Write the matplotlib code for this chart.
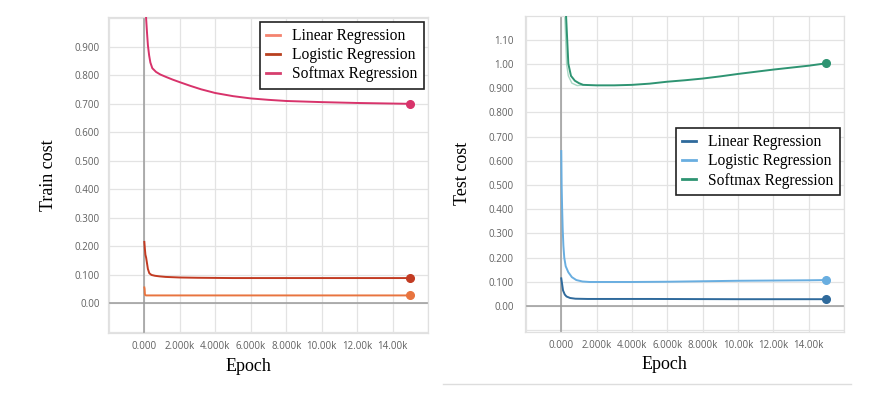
"""Train / test cost curves for three regression models."""

import matplotlib
matplotlib.use("Agg")
import matplotlib.pyplot as plt
from matplotlib.lines import Line2D

# ---- data ----
series_names = ["Linear Regression", "Logistic Regression", "Softmax Regression"]

train_linear_x = [0, 15, 30, 50, 100, 300, 1000, 5000, 10000, 15000]
train_linear_y = [0.055, 0.05, 0.032, 0.028, 0.027, 0.027, 0.027, 0.027, 0.027, 0.027]
train_logistic_x = [0, 30, 60, 100, 150, 200, 280, 400, 600, 850, 1200, 2000, 3000, 5000, 8000, 11000, 15000]
train_logistic_y = [0.215, 0.19, 0.17, 0.16, 0.14, 0.12, 0.105, 0.099, 0.096, 0.094, 0.092, 0.090, 0.089,
                    0.088, 0.088, 0.088, 0.088]
train_softmax_x = [0, 60, 100, 150, 200, 270, 340, 450, 660, 900, 1200, 1600, 2000, 2600, 3200, 4000, 5000,
                   6000, 7000, 8000, 10000, 12000, 15000]
train_softmax_y = [1.6, 1.1, 1.0, 0.95, 0.906, 0.87, 0.845, 0.825, 0.812, 0.803, 0.795, 0.785, 0.776, 0.763,
                   0.751, 0.738, 0.727, 0.719, 0.714, 0.710, 0.706, 0.703, 0.700]

test_linear_x = [0, 50, 100, 200, 300, 500, 800, 1500, 5000, 10000, 15000]
test_linear_y = [0.115, 0.09, 0.065, 0.048, 0.04, 0.034, 0.031, 0.030, 0.030, 0.029, 0.029]
test_logistic_x = [0, 20, 50, 80, 120, 170, 250, 400, 600, 850, 1200, 1600, 2500, 4000, 6000, 8000, 10000,
                   12000, 14000, 15000]
test_logistic_y = [0.64, 0.5, 0.4, 0.32, 0.25, 0.2, 0.165, 0.14, 0.12, 0.108, 0.102, 0.100, 0.100, 0.100,
                   0.101, 0.103, 0.105, 0.106, 0.107, 0.108]
test_softmax_x = [0, 150, 270, 400, 550, 770, 1000, 1240, 2000, 3000, 4000, 5000, 6000, 7000, 8000, 9000,
                  10000, 11000, 12000, 13000, 14000, 15000]
test_softmax_y = [1.6, 1.35, 1.2, 1.0, 0.95, 0.93, 0.92, 0.913, 0.911, 0.911, 0.913, 0.918, 0.926, 0.932,
                  0.939, 0.948, 0.958, 0.967, 0.976, 0.984, 0.992, 1.002]
# raw (unsmoothed) softmax test trace, drawn faint
test_softmax_raw_x = [0, 200, 300, 400, 600, 900, 1200]
test_softmax_raw_y = [1.6, 1.2, 1.0, 0.95, 0.92, 0.91, 0.912]

x_ticks = [0, 2000, 4000, 6000, 8000, 10000, 12000, 14000]
x_tick_labels = ["0.000", "2.000k", "4.000k", "6.000k", "8.000k", "10.00k", "12.00k", "14.00k"]
train_y_ticks = [0.0, 0.1, 0.2, 0.3, 0.4, 0.5, 0.6, 0.7, 0.8, 0.9]
train_y_labels = ["0.00", "0.100", "0.200", "0.300", "0.400", "0.500", "0.600", "0.700", "0.800", "0.900"]
test_y_ticks = [0.0, 0.1, 0.2, 0.3, 0.4, 0.5, 0.6, 0.7, 0.8, 0.9, 1.0, 1.1]
test_y_labels = ["0.00", "0.100", "0.200", "0.300", "0.400", "0.500", "0.600", "0.700", "0.800", "0.900",
                 "1.00", "1.10"]

train_colors = ["#e8743f", "#c23b22", "#d8336b"]
train_legend_colors = ["#f4836f", "#b8401f", "#d63f6e"]
test_colors = ["#2f6a9c", "#69aee0", "#2e9472"]

SERIF = "Liberation Serif"
TICK_FONT = "Open Sans"


def style_axes(ax, ylim, yticks, ylabels, grid_y):
    ax.set_xlim(-2050, 16000)
    ax.set_ylim(*ylim)
    # сетка
    for gx in range(-2000, 16001, 2000):
        ax.axvline(gx, color="#e3e3e3", lw=0.9, zorder=0)
    for gy in grid_y:
        ax.axhline(gy, color="#e3e3e3", lw=0.9, zorder=0)
    # нулевые линии
    ax.axvline(0, color="#9a9a9a", lw=1.1, zorder=1)
    ax.axhline(0, color="#9a9a9a", lw=1.1, zorder=1)
    for s in ax.spines.values():
        s.set_color("#e0e0e0")
        s.set_linewidth(0.9)
    ax.set_xticks(x_ticks)
    ax.set_xticklabels(x_tick_labels)
    ax.set_yticks(yticks)
    ax.set_yticklabels(ylabels)
    ax.tick_params(length=0, labelsize=7, labelcolor="#606060", pad=6)
    for lbl in ax.get_xticklabels() + ax.get_yticklabels():
        lbl.set_family(TICK_FONT)


def add_legend(ax, colors, anchor):
    handles = [Line2D([], [], color=c, lw=2) for c in colors]
    leg = ax.legend(handles, series_names, loc="upper right", bbox_to_anchor=anchor,
                    borderaxespad=0, prop={"family": SERIF, "size": 11.2}, handlelength=0.9,
                    labelspacing=0.2, borderpad=0.4, handletextpad=0.8, fancybox=False,
                    framealpha=1, edgecolor="#222222")
    leg.get_frame().set_linewidth(1.2)


fig = plt.figure(figsize=(8.86, 3.99), dpi=100)

# ---- left: train cost ----
ax1 = fig.add_axes([0.1219, 0.1654, 0.3612, 0.792])
style_axes(ax1, (-0.105, 1.005), train_y_ticks, train_y_labels,
           [-0.1, 0.0, 0.1, 0.2, 0.3, 0.4, 0.5, 0.6, 0.7, 0.8, 0.9, 1.0])
train_data = [(train_linear_x, train_linear_y), (train_logistic_x, train_logistic_y),
              (train_softmax_x, train_softmax_y)]
for (xs, ys), c in zip(train_data, train_colors):
    ax1.plot(xs, ys, color=c, lw=1.4, zorder=3)
    ax1.plot(xs[-1], ys[-1], "o", color=c, ms=5.5, zorder=4)
ax1.set_ylabel("Train cost", family=SERIF, fontsize=13)
ax1.yaxis.set_label_coords(-0.16, 0.5)
ax1.set_xlabel("Epoch", family=SERIF, fontsize=13)
ax1.xaxis.set_label_coords(0.44, -0.078)
add_legend(ax1, train_legend_colors, (0.9875, 0.984))

# ---- right: test cost ----
ax2 = fig.add_axes([0.5926, 0.1687, 0.360, 0.7912])
style_axes(ax2, (-0.105, 1.197), test_y_ticks, test_y_labels,
           [-0.1, 0.0, 0.1, 0.2, 0.3, 0.4, 0.5, 0.6, 0.7, 0.8, 0.9, 1.0, 1.1])
ax2.tick_params(axis="y", pad=8)
ax2.plot(test_softmax_raw_x, test_softmax_raw_y, color="#a8d8c4", lw=1.0, zorder=2)
test_data = [(test_linear_x, test_linear_y), (test_logistic_x, test_logistic_y),
             (test_softmax_x, test_softmax_y)]
for (xs, ys), c in zip(test_data, test_colors):
    ax2.plot(xs, ys, color=c, lw=1.4, zorder=3)
    ax2.plot(xs[-1], ys[-1], "o", color=c, ms=5.5, zorder=4)
ax2.set_ylabel("Test cost", family=SERIF, fontsize=13)
ax2.yaxis.set_label_coords(-0.17, 0.5)
ax2.set_xlabel("Epoch", family=SERIF, fontsize=13)
ax2.xaxis.set_label_coords(0.436, -0.078)
add_legend(ax2, test_colors, (0.987, 0.645))

# тонкая линия под правым скриншотом
fig.add_artist(Line2D([0.5, 0.961], [1 - 384 / 399, 1 - 384 / 399], transform=fig.transFigure,
                      color="#dddddd", lw=1))

fig.savefig("out.png", dpi=100)
